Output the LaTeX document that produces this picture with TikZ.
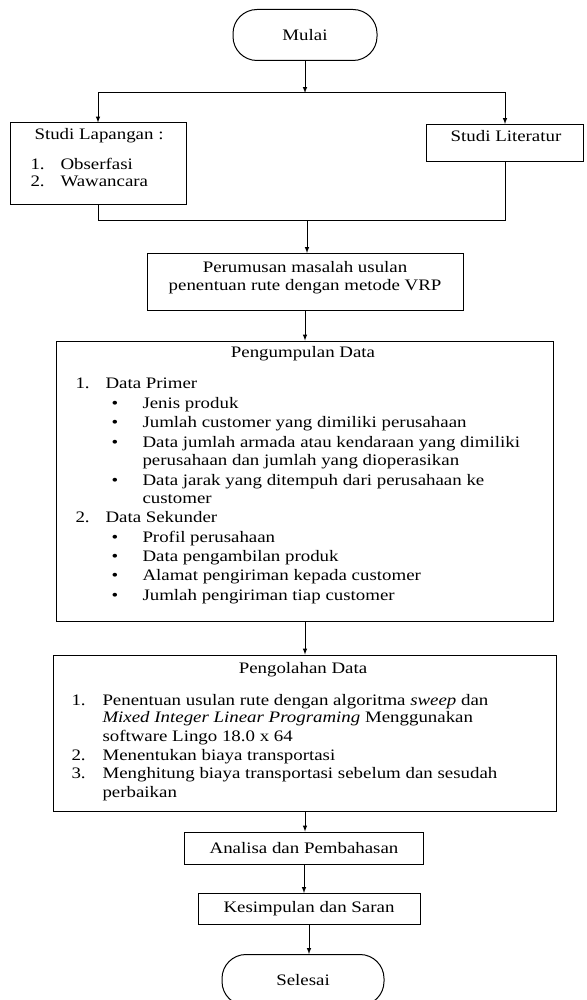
\documentclass[tikz,border=0pt]{standalone}
\usepackage{fontspec}
\setmainfont[FakeStretch=1.18]{Liberation Serif}
\usetikzlibrary{positioning}

\begin{document}
\begin{tikzpicture}[x=1pt,y=-1pt,line width=1pt,
        kotak/.style={draw,rectangle,inner sep=0pt,font=\fontsize{16}{19}\selectfont},
        ujung/.style={draw,rectangle,rounded corners=24pt,inner sep=0pt,font=\fontsize{16}{19}\selectfont},
        teks/.style={inner sep=0pt,font=\fontsize{16}{19}\selectfont},
        panah/.style={-latex}]
        \useasboundingbox (0,0) rectangle (586,1000);

        % kotak-kotak
        \node[ujung,minimum width=144pt,minimum height=51pt] (mulai) at (305,35) {Mulai};
        \node[kotak,minimum width=176pt,minimum height=82pt] (lap) at (98,164) {};
        \node[kotak,minimum width=157pt,minimum height=37pt] (lit) at (505,143) {};
        \node[kotak,minimum width=316pt,minimum height=57pt] (rumus) at (305,282) {};
        \node[kotak,minimum width=497pt,minimum height=280pt] (kumpul) at (305,481) {};
        \node[kotak,minimum width=503pt,minimum height=156pt] (olah) at (305,733) {};
        \node[kotak,minimum width=239pt,minimum height=32pt] (analisa) at (304,848) {Analisa dan Pembahasan};
        \node[kotak,minimum width=222pt,minimum height=31pt] (simpul) at (309,909) {Kesimpulan dan Saran};
        \node[ujung,minimum width=162pt,minimum height=51pt] (selesai) at (303,980) {Selesai};

        % isi studi
        \node[teks,anchor=base] (tlap) at (99,140) {Studi Lapangan :};
        \node[teks,anchor=base west] (nlap1) at (30,170) {1.};
        \node[teks,anchor=base west] (ilap1) at (60,170) {Obserfasi};
        \node[teks,anchor=base west] (nlap2) at (30,187) {2.};
        \node[teks,anchor=base west] (ilap2) at (60,187) {Wawancara};
        \node[teks,anchor=base] (tlit) at (506,142) {Studi Literatur};

        \node[teks,anchor=base] (trumus1) at (305,272) {Perumusan masalah usulan};
        \node[teks,anchor=base] (trumus2) at (305,290) {penentuan rute dengan metode VRP};

        % pengumpulan data
        \node[teks,anchor=base] (tkumpul) at (303,357) {Pengumpulan Data};
        \node[teks,anchor=base west] (nk1) at (75,388) {1.};
        \node[teks,anchor=base west] (ik1) at (105,388) {Data Primer};
        \node[teks,anchor=base west] (nk2) at (75,522) {2.};
        \node[teks,anchor=base west] (ik2) at (105,522) {Data Sekunder};
        \foreach \y/\isi [count=\i] in {408/Jenis produk,
                427/Jumlah customer yang dimiliki perusahaan,
                447/Data jumlah armada atau kendaraan yang dimiliki,
                465/perusahaan dan jumlah yang dioperasikan,
                485/Data jarak yang ditempuh dari perusahaan ke,
                503/customer,
                542/Profil perusahaan,
                561/Data pengambilan produk,
                580/Alamat pengiriman kepada customer,
                600/Jumlah pengiriman tiap customer}
            \node[teks,anchor=base west] (ks\i) at (142,\y) {\isi};
        \foreach \y [count=\i] in {408,427,447,485,542,561,580,600}
            \node[teks,anchor=base] (bt\i) at (115,\y) {\textbullet};

        % pengolahan data
        \node[teks,anchor=base] (tolah) at (303,673) {Pengolahan Data};
        \node[teks,anchor=base west] (no1) at (71,705) {1.};
        \node[teks,anchor=base west] (io1) at (102,705) {Penentuan usulan rute dengan algoritma \textit{sweep} dan};
        \node[teks,anchor=base west] (io1b) at (102,722) {\textit{Mixed Integer Linear Programing} Menggunakan};
        \node[teks,anchor=base west] (io1c) at (102,741) {software Lingo 18.0 x 64};
        \node[teks,anchor=base west] (no2) at (71,760) {2.};
        \node[teks,anchor=base west] (io2) at (102,760) {Menentukan biaya transportasi};
        \node[teks,anchor=base west] (no3) at (71,778) {3.};
        \node[teks,anchor=base west] (io3) at (102,778) {Menghitung biaya transportasi sebelum dan sesudah};
        \node[teks,anchor=base west] (io3b) at (102,797) {perbaikan};

        % panah
        \coordinate (bagi) at (305,93);
        \coordinate (gabung) at (307,221);
        \draw[panah] (mulai) -- (bagi);
        \draw[panah] (bagi) -| (lap);
        \draw[panah] (bagi) -| (lit);
        \draw (lap) |- (gabung);
        \draw (lit) |- (gabung);
        \draw[panah] (gabung) -- (gabung |- rumus.north);
        \draw[panah] (rumus) -- (kumpul);
        \draw[panah] (kumpul) -- (olah);
        \draw[panah] (olah.south) -- (olah.south |- analisa.north);
        \draw[panah] (analisa.south) -- (analisa.south |- simpul.north);
        \draw[panah] (simpul.south) -- (simpul.south |- selesai.north);
\end{tikzpicture}
\end{document}
